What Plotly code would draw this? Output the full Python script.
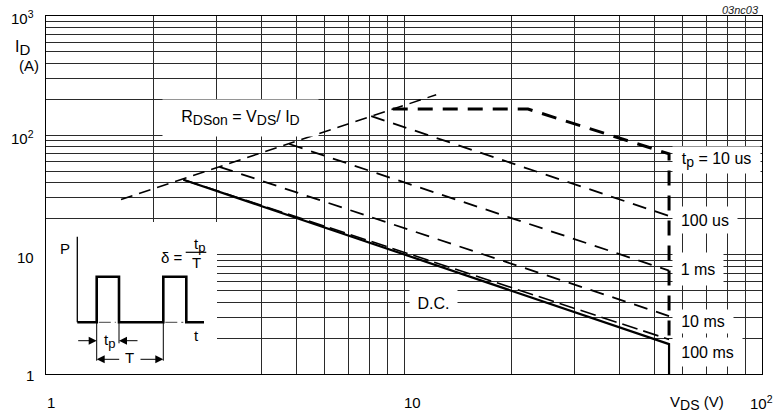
import math
import plotly.graph_objects as go

# ---------------- data ----------------
rdson_v = [1.62, 12.3]
rdson_i = [29.0, 219.0]

tp10us_v = [9.3, 22.2, 55.0, 55.0]
tp10us_i = [166.0, 166.0, 70.0, 1.95]

tp100us_v = [8.1, 55.0]
tp100us_i = [145.0, 21.1]

tp1ms_v = [4.78, 55.0]
tp1ms_i = [84.6, 7.35]

tp10ms_v = [3.05, 55.0]
tp10ms_i = [54.5, 3.06]

tp100ms_v = [2.42, 55.0]
tp100ms_i = [42.5, 1.95]

dc_v = [2.42, 55.0, 55.0]
dc_i = [42.5, 1.78, 1.0]


def sub(t, size=14):
    return "<sub><span style='font-size:%dpx'>%s</span></sub>" % (size, t)


curve_labels = ["t" + sub("p") + " = 10 us", "100 us", "1 ms", "10 ms", "100 ms", "D.C."]
rdson_label = "R" + sub("DSon") + " = V" + sub("DS") + "/ I" + sub("D")

x_grid = [1, 2, 3, 4, 5, 6, 7, 8, 9, 10, 20, 30, 40, 50, 60, 70, 80, 90, 100]
y_grid = [1, 2, 3, 4, 5, 6, 7, 8, 9, 10, 20, 30, 40, 50, 60, 70, 80, 90,
          100, 200, 300, 400, 500, 600, 700, 800, 900, 1000]

x_tick_vals = [1, 10, 100]
x_tick_text = ["1", "10", "10<sup>2</sup>"]
y_tick_vals = [1, 10, 100, 1000]
y_tick_text = ["1", "10", "10<sup>2</sup>", "10<sup>3</sup>"]

# inset pulse schematic (schematic units)
pulse_t = [0, 19.4, 19.4, 41.7, 41.7, 86.0, 86.0, 109.0, 109.0, 126.7]
pulse_p = [0, 0, 45.6, 45.6, 0, 0, 45.6, 45.6, 0, 0]

# ---------------- layout geometry ----------------
W, H = 777, 416
L, R, T, B = 46, 15, 16, 42
PW, PH = W - L - R, H - T - B


def xp(px):
    return (px - L) / PW


def yp(py):
    return (H - B - py) / PH


FONT = "Liberation Sans, Arial, Helvetica, sans-serif"

fig = go.Figure()

# white cover behind the inset (hides grid lines, leaves short stubs)
cover_x = [1.026, 2.945, 2.945, 1.026, 1.026]
cover_y = [1.08, 1.08, 17.7, 17.7, 1.08]
fig.add_trace(go.Scatter(x=cover_x, y=cover_y, mode="lines", fill="toself",
                         fillcolor="white", line=dict(width=0, color="white"),
                         hoverinfo="skip"))

fig.add_trace(go.Scatter(x=rdson_v, y=rdson_i, mode="lines",
                         line=dict(color="black", width=1.5, dash="12px,7px")))
fig.add_trace(go.Scatter(x=tp100us_v, y=tp100us_i, mode="lines",
                         line=dict(color="black", width=1.8, dash="14px,9px")))
fig.add_trace(go.Scatter(x=tp1ms_v, y=tp1ms_i, mode="lines",
                         line=dict(color="black", width=1.8, dash="14px,9px")))
fig.add_trace(go.Scatter(x=tp10ms_v, y=tp10ms_i, mode="lines",
                         line=dict(color="black", width=1.8, dash="14px,9px")))
fig.add_trace(go.Scatter(x=tp100ms_v, y=tp100ms_i, mode="lines",
                         line=dict(color="black", width=1.6, dash="16px,6px")))
fig.add_trace(go.Scatter(x=dc_v, y=dc_i, mode="lines",
                         line=dict(color="black", width=2.2)))
fig.add_trace(go.Scatter(x=tp10us_v, y=tp10us_i, mode="lines",
                         line=dict(color="black", width=3, dash="15px,10px")))

# ---------------- inset (pulse diagram) ----------------
ox, oy = 77.3, 322.3  # schematic origin in px
fig.add_trace(go.Scatter(x=[0, 0], y=[0, 85.6], mode="lines", xaxis="x2", yaxis="y2",
                         line=dict(color="black", width=1.3)))
fig.add_trace(go.Scatter(x=pulse_t, y=pulse_p, mode="lines", xaxis="x2", yaxis="y2",
                         line=dict(color="black", width=2.6)))
fig.add_trace(go.Scatter(x=[21.5, 38.5, None, 88.0, 106.0], y=[0, 0, None, 0, 0],
                         mode="lines", xaxis="x2", yaxis="y2",
                         line=dict(color="#444", width=1, dash="12px,4px")))
fig.add_trace(go.Scatter(x=[19.4, 19.4, None, 41.7, 41.7, None, 86.0, 86.0],
                         y=[0, -38.4, None, 0, -21, None, 0, -38.4],
                         mode="lines", xaxis="x2", yaxis="y2",
                         line=dict(color="black", width=1)))
fig.add_trace(go.Scatter(x=[108.4, 129.0], y=[70, 70], mode="lines", xaxis="x2", yaxis="y2",
                         line=dict(color="black", width=1.2)))

ann = []


def arrow(hx, hy, tx, ty):
    return dict(x=hx, y=hy, ax=tx, ay=ty, xref="x2", yref="y2", axref="x2", ayref="y2",
                showarrow=True, arrowhead=2, arrowsize=1.6, arrowwidth=1,
                arrowcolor="black", text="", standoff=0)


ann += [arrow(19.4, -18.4, -0.6, -18.4), arrow(41.7, -18.4, 61.7, -18.4),
        arrow(19.4, -37.0, 43.4, -37.0), arrow(86.0, -37.0, 61.7, -37.0)]


def itext(t, x, y, size=15):
    return dict(text=t, x=x, y=y, xref="x2", yref="y2", showarrow=False,
                xanchor="center", yanchor="middle", font=dict(size=size, color="black", family=FONT))


ann += [itext("P", -12.6, 74), itext("t", 119, -12.7), itext("t" + sub("p", 13), 31.7, -19),
        itext("T", 51.7, -35.4), itext("δ =", 94.7, 64.5), itext("t" + sub("p", 13), 121.7, 77),
        itext("T", 119.2, 59.8)]

# ---------------- tick labels ----------------
x_tick_shift = [4.5, 8, -0.5]
for v, t, s in zip(x_tick_vals, x_tick_text, x_tick_shift):
    ann.append(dict(text=t, x=math.log10(v), y=yp(402), xref="x", yref="paper",
                    xshift=s, showarrow=False, xanchor="center", yanchor="middle",
                    font=dict(size=15, color="black", family=FONT)))
y_tick_shift = [-1, -2.5, -2, -1]
for v, t, s in zip(y_tick_vals, y_tick_text, y_tick_shift):
    ann.append(dict(text=t, x=xp(36), y=math.log10(v), xref="paper", yref="y",
                    yshift=s, showarrow=False, xanchor="right", yanchor="middle",
                    font=dict(size=15, color="black", family=FONT)))

# axis titles
ann.append(dict(text="I" + sub("D", 15), x=xp(13), y=yp(48), xref="paper", yref="paper",
                showarrow=False, xanchor="left", yanchor="middle",
                font=dict(size=16, color="black", family=FONT)))
ann.append(dict(text="(A)", x=xp(17), y=yp(65), xref="paper", yref="paper",
                showarrow=False, xanchor="left", yanchor="middle",
                font=dict(size=15, color="black", family=FONT)))
ann.append(dict(text="V" + sub("DS", 14) + " (V)", x=xp(668), y=yp(403), xref="paper", yref="paper",
                showarrow=False, xanchor="left", yanchor="middle",
                font=dict(size=15, color="black", family=FONT)))
ann.append(dict(text="<i>03nc03</i>", x=xp(761), y=yp(10), xref="paper", yref="paper",
                showarrow=False, xanchor="right", yanchor="middle",
                font=dict(size=11, color="#222", family=FONT)))

# curve labels with white boxes (centre x, centre y, width, height in px)
label_boxes = [(716.5, 160, 87, 26), (705, 220, 64, 26), (698, 269, 50, 32),
               (703, 321.5, 60, 23), (707.5, 352, 69, 28), (433.3, 302.7, 47, 26)]
for t, (cx, cy, w, h) in zip(curve_labels, label_boxes):
    ann.append(dict(text=t, x=xp(cx), y=yp(cy), xref="paper", yref="paper",
                    showarrow=False, xanchor="center", yanchor="middle",
                    width=w, height=h, borderpad=0, bgcolor="white", align="center",
                    font=dict(size=16, color="black", family=FONT)))
ann.append(dict(text=rdson_label, x=xp(240.5), y=yp(118), xref="paper", yref="paper",
                showarrow=False, xanchor="center", yanchor="middle",
                width=155, height=36, borderpad=0, bgcolor="white", align="center",
                font=dict(size=16, color="black", family=FONT)))

axis_common = dict(showgrid=True, gridcolor="#2a2a2a", gridwidth=1, showline=True,
                   mirror=True, linecolor="black", linewidth=1, zeroline=False,
                   ticks="", showticklabels=False, tickmode="array")

fig.update_layout(
    width=W, height=H, autosize=False,
    margin=dict(l=L, r=R, t=T, b=B, pad=0),
    paper_bgcolor="white", plot_bgcolor="white",
    showlegend=False, hovermode=False,
    font=dict(family=FONT, color="black"),
    xaxis=dict(type="log", range=[0, 2], tickvals=x_grid, **axis_common),
    yaxis=dict(type="log", range=[0, 3], tickvals=y_grid, **axis_common),
    xaxis2=dict(domain=[xp(46), xp(217)], range=[46 - ox, 217 - ox], anchor="y2", visible=False),
    yaxis2=dict(domain=[yp(374), yp(222)], range=[oy - 374, oy - 222], anchor="x2", visible=False),
    annotations=ann,
)

fig.write_html("out.html", config={"displayModeBar": False, "staticPlot": True},
               post_script="document.body.style.margin='0px';document.body.style.overflow='hidden';")
